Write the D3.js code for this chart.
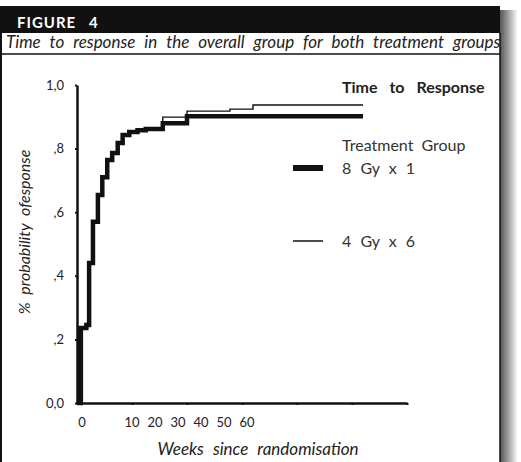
<!DOCTYPE html>
<html>
<head>
<meta charset="utf-8">
<script src="https://cdn.jsdelivr.net/npm/d3@7"></script>
<style>
    body { margin: 0; background: #fff; }
    svg text { font-family: Lato, "Open Sans", sans-serif; fill: #222; }
</style>
</head>
<body>
<div id="chart"></div>
<script>
/*globals d3*/

// Data (weeks since randomisation, cumulative probability of response)
var thickWeeks = [0, 0.7, 1.7, 2.2, 2.9, 3.8, 4.6, 5.5, 6.4, 7.4, 8.3, 9.5, 11.0, 12.5, 15.6, 20.0, 52.0];
var thickProb  = [0, 0.236, 0.245, 0.44, 0.57, 0.654, 0.71, 0.764, 0.786, 0.818, 0.843, 0.852, 0.858, 0.862, 0.880, 0.902, 0.902];

var thinWeeks = [0, 0.3, 1.7, 2.2, 3.0, 3.8, 4.6, 5.5, 6.4, 7.4, 8.3, 9.5, 11.0, 12.5, 15.6, 20.0, 27.8, 32.0, 52.0];
var thinProb  = [0, 0.24, 0.25, 0.44, 0.57, 0.65, 0.71, 0.76, 0.79, 0.82, 0.845, 0.852, 0.858, 0.865, 0.899, 0.918, 0.924, 0.937, 0.937];

var groupNames = ["8 Gy x 1", "4 Gy x 6"];

var xTicks = [0, 10, 20, 30, 40, 50, 60];
var xTickLabels = ["0", "10", "20", "30", "40", "50", "60"];
var yTicks = [0, 0.2, 0.4, 0.6, 0.8, 1.0];
var yTickLabels = ["0,0", ",2", ",4", ",6", ",8", "1,0"];

var W = 521, H = 462;

var svg = d3.select("#chart").append("svg")
    .attr("width", W)
    .attr("height", H);

// shadow on the right of the panel
var defs = svg.append("defs");
var grad = defs.append("linearGradient").attr("id", "shadow");
grad.append("stop").attr("offset", "0").attr("stop-color", "#555");
grad.append("stop").attr("offset", "0.45").attr("stop-color", "#999");
grad.append("stop").attr("offset", "1").attr("stop-color", "#f6f6f6");
svg.append("rect")
    .attr("x", 500).attr("y", 10)
    .attr("width", 17).attr("height", H - 10)
    .attr("fill", "url(#shadow)");

// header bar
svg.append("rect")
    .attr("x", 0).attr("y", 6)
    .attr("width", 500).attr("height", 27)
    .attr("fill", "#111");
svg.append("text")
    .attr("x", 17).attr("y", 28)
    .style("fill", "#fff")
    .style("font-weight", "bold")
    .style("font-size", "15px")
    .style("letter-spacing", "1px")
    .style("word-spacing", "8px")
    .text("FIGURE 4");

// subtitle row
svg.append("rect")
    .attr("x", 0).attr("y", 33)
    .attr("width", 500).attr("height", 21)
    .attr("fill", "#fff");
svg.append("text")
    .attr("x", 6).attr("y", 48)
    .style("font-style", "italic")
    .style("font-size", "17px")
    .style("word-spacing", "5px")
    .text("Time to response in the overall group for both treatment groups");

// panel borders
svg.append("line").attr("x1", 0).attr("x2", 500).attr("y1", 54).attr("y2", 54)
    .attr("stroke", "#111").attr("stroke-width", 1.5);
svg.append("line").attr("x1", 1).attr("x2", 1).attr("y1", 33).attr("y2", H)
    .attr("stroke", "#111").attr("stroke-width", 2);
svg.append("line").attr("x1", 500).attr("x2", 500).attr("y1", 33).attr("y2", H)
    .attr("stroke", "#111").attr("stroke-width", 1.5);

// scales
var x = d3.scaleLinear().domain([0, 60]).range([77, 407]);
var y = d3.scaleLinear().domain([0, 1]).range([403, 85]);

// x axis: ticks in place, labels are bunched up in the original
var xAxis = svg.append("g")
    .attr("transform", "translate(0," + y(0) + ")")
    .call(d3.axisBottom(x).tickValues(xTicks).tickSize(2).tickSizeOuter(0).tickFormat(""));
xAxis.select(".domain").attr("stroke", "#111").attr("stroke-width", 2.5);
xAxis.selectAll(".tick line").attr("stroke", "#111").attr("stroke-width", 2);

var labelX = d3.scalePoint().domain(xTickLabels.slice(1)).range([x(10), x(10) + 115]);
svg.append("g").selectAll("text")
    .data(xTickLabels)
    .enter().append("text")
    .attr("x", function (d, i) { return i === 0 ? x(0) + 5 : labelX(d); })
    .attr("y", 427)
    .attr("text-anchor", "middle")
    .style("font-size", "13px")
    .text(function (d) { return d; });

// y axis
var yAxis = svg.append("g")
    .attr("transform", "translate(" + x(0) + ",0)")
    .call(d3.axisLeft(y).tickValues(yTicks).tickSize(2).tickSizeOuter(0)
        .tickFormat(function (d, i) { return yTickLabels[i]; }));
yAxis.select(".domain").attr("stroke", "#111").attr("stroke-width", 2.5);
yAxis.selectAll(".tick line").attr("stroke", "#111").attr("stroke-width", 2);
yAxis.selectAll(".tick text")
    .attr("x", -13)
    .style("font-size", "13px")
    .style("font-family", "Lato, sans-serif")
    .attr("fill", "#222");

// axis titles
svg.append("text")
    .attr("transform", "translate(30,232) rotate(-90)")
    .attr("text-anchor", "middle")
    .style("font-style", "italic")
    .style("font-size", "16px")
    .style("word-spacing", "4px")
    .text("% probability ofesponse");
svg.append("text")
    .attr("x", 258).attr("y", 455)
    .attr("text-anchor", "middle")
    .style("font-style", "italic")
    .style("font-size", "17px")
    .style("word-spacing", "5px")
    .text("Weeks since randomisation");

// step curves
var line = d3.line()
    .x(function (d) { return x(d[0]); })
    .y(function (d) { return y(d[1]); })
    .curve(d3.curveStepAfter);

var thick = d3.zip(thickWeeks, thickProb);
var thin = d3.zip(thinWeeks, thinProb);

svg.append("path")
    .attr("d", line(thick))
    .attr("fill", "none")
    .attr("stroke", "#111")
    .attr("stroke-width", 4.5);
svg.append("path")
    .attr("d", line(thin))
    .attr("fill", "none")
    .attr("stroke", "#111")
    .attr("stroke-width", 1.4);

// legend
svg.append("text")
    .attr("x", 342).attr("y", 93)
    .style("font-weight", "bold")
    .style("font-size", "16px")
    .style("word-spacing", "8px")
    .text("Time to Response");
svg.append("text")
    .attr("x", 342).attr("y", 151)
    .style("font-size", "16px")
    .style("word-spacing", "4px")
    .style("fill", "#333")
    .text("Treatment Group");

var legend = svg.append("g").selectAll("g")
    .data(groupNames)
    .enter().append("g")
    .attr("transform", function (d, i) { return "translate(0," + (i === 0 ? 168 : 241) + ")"; });
legend.append("line")
    .attr("x1", 293).attr("x2", 323)
    .attr("stroke", "#111")
    .attr("stroke-width", function (d, i) { return i === 0 ? 6 : 1.5; });
legend.append("text")
    .attr("x", 342).attr("y", 6)
    .style("font-size", "16px")
    .style("word-spacing", "5px")
    .style("fill", "#333")
    .text(function (d) { return d; });
</script>
</body>
</html>
